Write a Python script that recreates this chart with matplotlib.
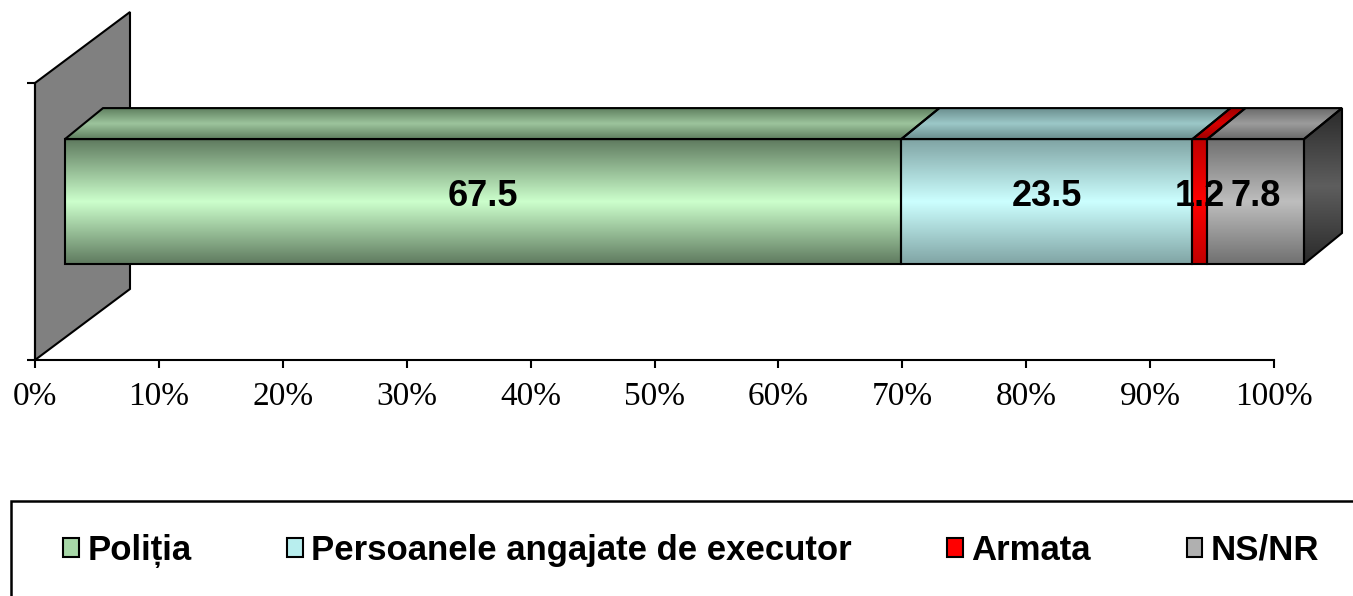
import numpy as np
import matplotlib.pyplot as plt
from matplotlib.patches import Polygon, Rectangle, Patch
from matplotlib.colors import LinearSegmentedColormap

categories = ["Poliția", "Persoanele angajate de executor", "Armata", "NS/NR"]
values = [67.5, 23.5, 1.2, 7.8]
ticks = np.arange(0, 101, 10)
tick_labels = [f"{t}%" for t in ticks]

front_mid = ["#ccffcc", "#ccffff", "#ff0000", "#bebebe"]
front_edge = ["#5f7a5f", "#80a4a4", "#c00000", "#707070"]
top_mid = ["#9cc49c", "#9cc8c8", "#d80000", "#9c9c9c"]
top_edge = ["#5f7f5f", "#6a8e8e", "#a00000", "#6a6a6a"]
legend_colors = ["#a8d8a8", "#b8eeee", "#ff0000", "#b0b0b0"]

W, H = 1353, 596
fig = plt.figure(figsize=(W / 100, H / 100), dpi=100)
ax = fig.add_axes([35 / W, 1 - 360 / H, 1239 / W, 277 / H])
ax.set_xlim(0, 100)
ax.set_ylim(0, 1)

# pixel -> data conversions for the fake 3D depth
ux = 100 / 1239
uy = 1 / 277
front_dx = 30 * ux              # bar front sits a bit into the depth
depth_dx, depth_dy = 38 * ux, 31 * uy
wall_dx, wall_dy = 95 * ux, 71 * uy
bar_y, bar_h = 0.572, 0.451


def gradient(patch, c_edge, c_mid, extent, z):
    cmap = LinearSegmentedColormap.from_list("g", [c_edge, c_mid, c_edge])
    grad = np.linspace(0, 1, 256).reshape(-1, 1)
    im = ax.imshow(grad, cmap=cmap, extent=extent, aspect="auto",
                   origin="lower", zorder=z, interpolation="bilinear")
    im.set_clip_box(fig.bbox)
    im.set_clip_path(patch)


# side wall
wall = Polygon([(0, 0), (0, 1), (wall_dx, 1 + wall_dy), (wall_dx, wall_dy)],
               closed=True, facecolor="#808080", edgecolor="black",
               lw=1.5, zorder=1, clip_on=False)
ax.add_patch(wall)

starts = np.concatenate([[0], np.cumsum(values)[:-1]])
bars = ax.barh(bar_y, values, left=starts + front_dx, height=bar_h,
               facecolor="none", edgecolor="black", lw=1.5, zorder=4,
               clip_on=False)

yb, yt = bar_y - bar_h / 2, bar_y + bar_h / 2
for i, (b, s, v) in enumerate(zip(bars, starts, values)):
    a, e = s + front_dx, s + v + front_dx
    gradient(b, front_edge[i], front_mid[i], (a, e, yb, yt), 3)
    top = Polygon([(a, yt), (e, yt), (e + depth_dx, yt + depth_dy),
                   (a + depth_dx, yt + depth_dy)], closed=True,
                  facecolor="none", edgecolor="black", lw=1.5, zorder=4,
                  clip_on=False)
    ax.add_patch(top)
    gradient(top, top_edge[i], top_mid[i],
             (a, e + depth_dx, yt, yt + depth_dy), 3)
    ax.text((a + e) / 2, bar_y + 5 * uy, f"{v}", ha="center", va="center",
            fontsize=26, fontweight="bold", family="Liberation Sans",
            zorder=6)

end = starts[-1] + values[-1] + front_dx
side = Polygon([(end, yb), (end, yt), (end + depth_dx, yt + depth_dy),
                (end + depth_dx, yb + depth_dy)], closed=True,
               facecolor="none", edgecolor="black", lw=1.5, zorder=4,
               clip_on=False)
ax.add_patch(side)
gradient(side, "#2a2a2a", "#5e5e5e", (end, end + depth_dx, yb, yt + depth_dy), 3)

ax.set_xlim(0, 100)
ax.set_ylim(0, 1)
for sp in ["top", "right"]:
    ax.spines[sp].set_visible(False)
for sp in ["left", "bottom"]:
    ax.spines[sp].set_linewidth(1.5)
    ax.spines[sp].set_zorder(2)
ax.set_xticks(ticks)
ax.set_xticklabels(tick_labels, family="Liberation Serif", fontsize=24)
ax.set_yticks([0, 1])
ax.set_yticklabels([])
ax.tick_params(axis="both", direction="out", length=5.8, width=1.5)
ax.tick_params(axis="x", pad=10)
ax.patch.set_visible(False)

handles = [Patch(facecolor=c, edgecolor="black", lw=1.5) for c in legend_colors]
fig.legend(handles, categories, loc="center left",
           bbox_to_anchor=(63 / W, 1 - 551 / H), ncol=4, frameon=False,
           prop={"family": "Liberation Sans", "weight": "bold", "size": 25},
           handlelength=0.45, handleheight=0.45, handletextpad=0.25,
           columnspacing=2.75, borderpad=0, borderaxespad=0)
fig.add_artist(Rectangle((11 / W, -0.1), 1.2, (596 - 501) / H + 0.1,
                         transform=fig.transFigure, fill=False,
                         edgecolor="black", lw=1.8))

fig.savefig("out.png", dpi=100)
